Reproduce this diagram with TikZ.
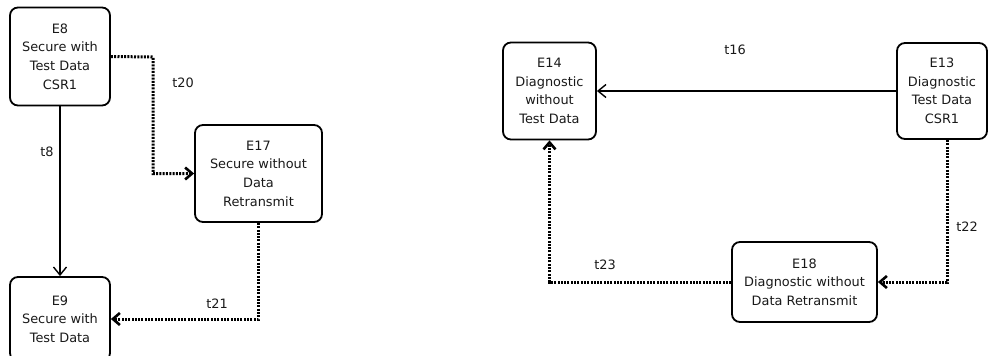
\documentclass[tikz,border=0pt]{standalone}
\usepackage{fontspec}
\setmainfont{DejaVu Sans}
\usetikzlibrary{arrows.meta}

\tikzset{
  state/.style={draw=black, line width=1.8pt, rounded corners=8pt, inner sep=0pt,
    align=center, font=\fontsize{12.9}{18.6}\selectfont, text=black!90},
  solidlink/.style={draw=black, line width=1.4pt,
    -{Straight Barb[length=8pt,width=13pt,line width=1.4pt]}},
  dotlink/.style={draw=black, line width=3pt, dash pattern=on 2pt off 1.3pt,
    -{Straight Barb[length=7pt,width=12pt,line width=2.6pt]}},
  tlabel/.style={font=\fontsize{12.9}{14}\selectfont, text=black!90, inner sep=0pt}
}

\begin{document}
\begin{tikzpicture}[x=1pt, y=-1pt]
  \useasboundingbox (0,0) rectangle (988,356);

  % left group of states
  \node[state, minimum width=100pt, minimum height=98pt] (E8) at (60,56.5)
    {E8\\Secure with\\Test Data\\CSR1};
  \node[state, minimum width=127pt, minimum height=97pt] (E17) at (258.5,173.5)
    {E17\\Secure without\\Data\\Retransmit};
  \node[state, minimum width=100pt, minimum height=84pt] (E9) at (60,319)
    {E9\\Secure with\\Test Data};

  % right group of states
  \node[state, minimum width=93pt, minimum height=97pt] (E14) at (549.5,91)
    {E14\\Diagnostic\\without\\Test Data};
  \node[state, minimum width=90pt, minimum height=96pt] (E13) at (942,91)
    {E13\\Diagnostic\\Test Data\\CSR1};
  \node[state, minimum width=145pt, minimum height=80pt] (E18) at (804.5,282)
    {E18\\Diagnostic without\\Data Retransmit};

  % bend points
  \coordinate (k20) at (153,57);
  \coordinate (k22) at (947,282);

  % transitions
  \draw[solidlink] (E8.south) -- (E9.north);
  \draw[dotlink] (E8.east) -- (k20) |- (E17.west);
  \draw[dotlink] (E17.south) |- (E9.east);
  \draw[solidlink] (E13.west) -- (E14.east);
  \draw[dotlink] (E13.south -| k22) -- (k22) -- (E18.east);
  \draw[dotlink] (E18.west) -| (E14.south);

  % transition labels
  \node[tlabel] (l8) at (47,152) {t8};
  \node[tlabel] (l20) at (183,83) {t20};
  \node[tlabel] (l21) at (217,304) {t21};
  \node[tlabel] (l16) at (735,50) {t16};
  \node[tlabel] (l22) at (967,227) {t22};
  \node[tlabel] (l23) at (605,265) {t23};
\end{tikzpicture}
\end{document}
